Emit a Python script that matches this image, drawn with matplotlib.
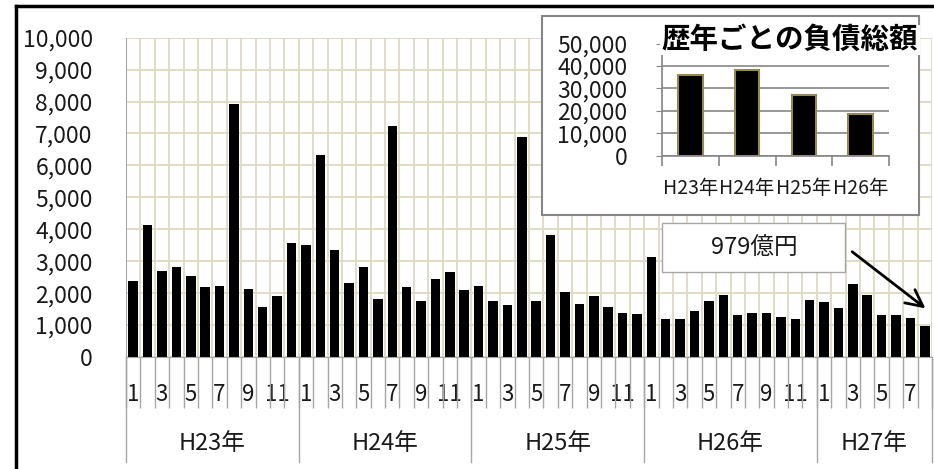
import matplotlib
matplotlib.use("Agg")
import matplotlib.pyplot as plt
from matplotlib.patches import Rectangle
from matplotlib.lines import Line2D
from matplotlib.ticker import FuncFormatter

plt.rcParams['font.family'] = ['Noto Sans CJK JP', 'DejaVu Sans']

# monthly debt totals (億円), H23/1 .. H27/8
years = ['H23年', 'H24年', 'H25年', 'H26年', 'H27年']
months_per_year = [12, 12, 12, 12, 8]
monthly = [
    2390, 4120, 2700, 2830, 2550, 2180, 2220, 7930, 2140, 1580, 1900, 3580,   # H23
    3510, 6320, 3340, 2310, 2830, 1830, 7250, 2180, 1750, 2440, 2660, 2100,   # H24
    2230, 1750, 1620, 6900, 1750, 3830, 2030, 1660, 1900, 1580, 1380, 1340,   # H25
    3140, 1180, 1180, 1430, 1750, 1930, 1310, 1380, 1380, 1260, 1180, 1780,   # H26
    1710, 1550, 2280, 1930, 1310, 1310, 1220, 979,                            # H27
]

# yearly totals for the inset
inset_years = ['H23年', 'H24年', 'H25年', 'H26年']
inset_totals = [36100, 38100, 27300, 18500]

W, H = 934, 469
GRID = '#DDD9C3'
AXIS = '#A6A6A6'
TXT = '#1A1A1A'


def fx(x):
    return x / W


def fy(y):
    return 1 - y / H


fig = plt.figure(figsize=(W / 100, H / 100), dpi=100)

# ---- main monthly chart
ax = fig.add_axes([fx(126), fy(357), fx(806), 319.3 / H])
n = len(monthly)
xs = list(range(n))
ax.bar(xs, monthly, width=0.66, color='black', zorder=3)
ax.set_xlim(-0.5, n - 0.5)
ax.set_ylim(0, 10000)

ax.set_yticks(range(0, 10001, 1000))
ax.yaxis.set_major_formatter(FuncFormatter(lambda v, p: f'{int(v):,}'))
ax.tick_params(axis='y', length=0, pad=24, labelsize=16.5, labelcolor=TXT)
ax.grid(axis='y', color=GRID, lw=1.3, zorder=0)

month_labels = []
for cnt in months_per_year:
    for m in range(1, cnt + 1):
        month_labels.append(str(m) if m % 2 == 1 else '')
ax.set_xticks(xs)
ax.set_xticklabels(month_labels)
ax.tick_params(axis='x', which='major', length=0, pad=19, labelsize=16, labelcolor=TXT)
ax.set_xticks([i + 0.5 for i in range(-1, n)], minor=True)
ax.tick_params(axis='x', which='minor', length=37, width=1, color=AXIS, direction='out')
ax.grid(axis='x', which='minor', color=GRID, lw=1.3, zorder=0)

for s in ['top', 'right']:
    ax.spines[s].set_visible(False)
for s in ['left', 'bottom']:
    ax.spines[s].set_color(AXIS)
    ax.spines[s].set_zorder(4)

# year group separators and labels
start = 0
bounds = [-0.5]
for yr, cnt in zip(years, months_per_year):
    ax.text(start + (cnt - 1) / 2, -0.27, yr, transform=ax.get_xaxis_transform(),
            ha='center', va='center', fontsize=17, color=TXT)
    start += cnt
    bounds.append(start - 0.5)
for b in bounds:
    ax.plot([b, b], [0, -0.33], transform=ax.get_xaxis_transform(),
            color=AXIS, lw=1, clip_on=False)

# callout for the latest month
ax.annotate('', xy=(55.2, 1470), xytext=(49.8, 3350),
            arrowprops=dict(arrowstyle='->', color='black', lw=2, mutation_scale=30),
            annotation_clip=False, zorder=6)
fig.add_artist(Rectangle((fx(662), fy(272)), fx(845 - 662), 49 / H, transform=fig.transFigure,
                         facecolor='white', edgecolor='#A6A6A6', lw=1, zorder=2))
fig.text(fx(754), fy(248), f'{monthly[-1]}億円', ha='center', va='center',
         fontsize=17, color=TXT, zorder=3)

# ---- inset yearly totals
fig.add_artist(Rectangle((fx(542), fy(215)), fx(919 - 542), 199.3 / H, transform=fig.transFigure,
                         facecolor='white', edgecolor='#868686', lw=1.5, zorder=2))
ax2 = fig.add_axes([fx(662), fy(155.7), fx(227), 112 / H], zorder=3)
ax2.patch.set_alpha(0)
ax2.bar(range(4), inset_totals, width=0.43, color='black', edgecolor='#938953', lw=1.5, zorder=3)
ax2.set_xlim(-0.5, 3.5)
ax2.set_ylim(0, 50000)
ax2.set_yticks(range(0, 50001, 10000))
ax2.yaxis.set_major_formatter(FuncFormatter(lambda v, p: f'{int(v):,}'))
ax2.tick_params(axis='y', length=4, color='#868686', pad=21, labelsize=16.5, labelcolor=TXT)
ax2.grid(axis='y', color='#868686', lw=1.2, zorder=0)
ax2.set_xticks(range(4))
ax2.set_xticklabels(inset_years)
ax2.tick_params(axis='x', which='major', length=0, pad=16, labelsize=14, labelcolor=TXT)
ax2.set_xticks([-0.5, 0.5, 1.5, 2.5, 3.5], minor=True)
ax2.tick_params(axis='x', which='minor', length=7, width=1.2, color='#868686')
for s in ['top', 'right']:
    ax2.spines[s].set_visible(False)
for s in ['left', 'bottom']:
    ax2.spines[s].set_color('#868686')
    ax2.spines[s].set_linewidth(1.2)

fig.text(fx(790), fy(40), '歴年ごとの負債総額', ha='center', va='center', fontsize=20.5,
         fontweight='bold', color='black', zorder=5,
         bbox=dict(facecolor='white', edgecolor='none', pad=1))

# outer frame (cut off on the right and bottom like the source)
fig.add_artist(Line2D([fx(16), fx(16)], [0, fy(6)], color='black', lw=2.5))
fig.add_artist(Line2D([fx(16), 1], [fy(6), fy(6)], color='black', lw=2.5))

fig.savefig('out.png', dpi=100)
